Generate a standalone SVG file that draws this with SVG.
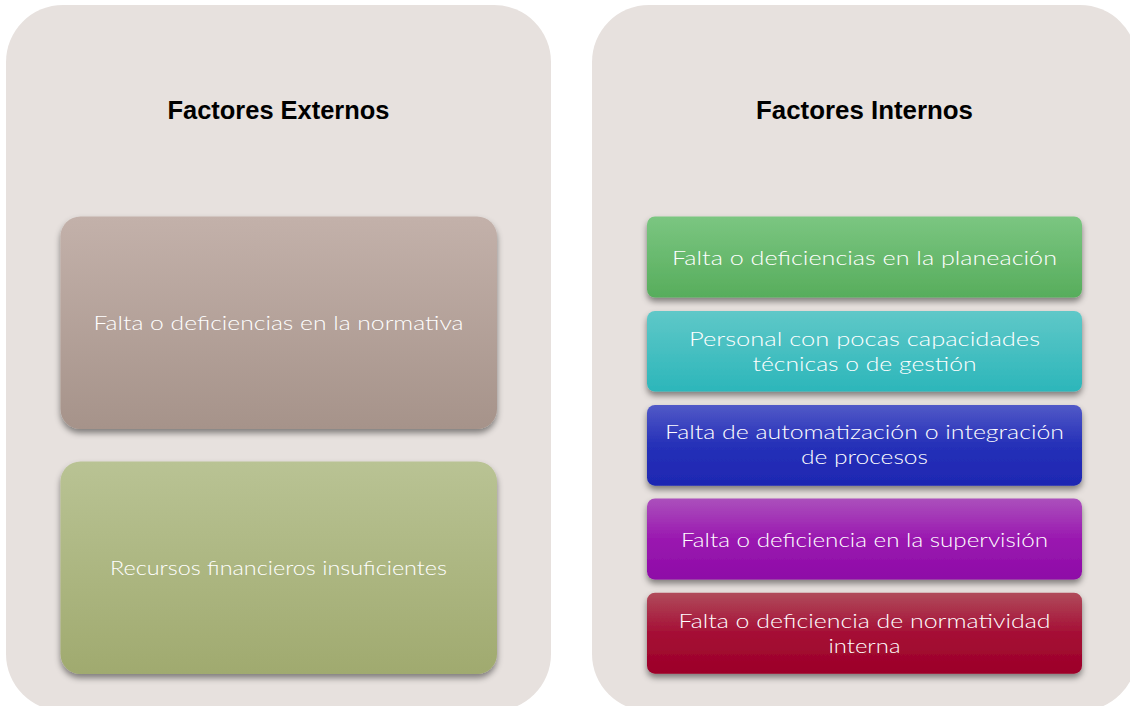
<svg xmlns="http://www.w3.org/2000/svg" width="1130" height="706" viewBox="0 0 1130 706">
  <defs>
    <style>
      .panel { fill: #E7E1DE; }
      .title { font-family: "Liberation Sans", Arial, sans-serif; font-weight: bold; font-size: 25px; fill: #000; text-anchor: middle; }
      .lbl { font-family: Lato, "Open Sans", "Liberation Sans", sans-serif; font-weight: 300; font-size: 20.5px; fill: #FFFFFF; text-anchor: middle; }
      .box { filter: url(#shadow); }
    </style>
    <filter id="shadow" x="-10%" y="-20%" width="120%" height="150%">
      <feDropShadow dx="0" dy="4" stdDeviation="3" flood-color="#000" flood-opacity="0.45"/>
    </filter>
    <linearGradient id="gBrown" x1="0" y1="0" x2="0" y2="1">
      <stop offset="0" stop-color="#C3B1AA"/>
      <stop offset="1" stop-color="#A6938A"/>
    </linearGradient>
    <linearGradient id="gOlive" x1="0" y1="0" x2="0" y2="1">
      <stop offset="0" stop-color="#B9C394"/>
      <stop offset="1" stop-color="#A0AA6F"/>
    </linearGradient>
    <linearGradient id="gGreen" x1="0" y1="0" x2="0" y2="1">
      <stop offset="0" stop-color="#7BC681"/>
      <stop offset="1" stop-color="#57AD5C"/>
    </linearGradient>
    <linearGradient id="gTeal" x1="0" y1="0" x2="0" y2="1">
      <stop offset="0" stop-color="#5FC8C8"/>
      <stop offset="1" stop-color="#2CB6BA"/>
    </linearGradient>
    <linearGradient id="gBlue" x1="0" y1="0" x2="0" y2="1">
      <stop offset="0" stop-color="#5159C7"/>
      <stop offset="0.5" stop-color="#2530B8"/>
      <stop offset="1" stop-color="#1E27B2"/>
    </linearGradient>
    <linearGradient id="gPurple" x1="0" y1="0" x2="0" y2="1">
      <stop offset="0" stop-color="#AB50BC"/>
      <stop offset="0.5" stop-color="#9A18B0"/>
      <stop offset="1" stop-color="#8E0BA7"/>
    </linearGradient>
    <linearGradient id="gRed" x1="0" y1="0" x2="0" y2="1">
      <stop offset="0" stop-color="#B04B5B"/>
      <stop offset="0.5" stop-color="#A50E35"/>
      <stop offset="1" stop-color="#9C0028"/>
    </linearGradient>
  </defs>

  <rect width="1130" height="706" fill="#FFFFFF"/>

  <g id="panel-externos">
    <rect class="panel" x="6" y="5" width="545" height="706" rx="57" ry="57"/>
    <text class="title" x="278.5" y="119" textLength="222" lengthAdjust="spacingAndGlyphs">Factores Externos</text>
  </g>

  <g id="panel-internos">
    <rect class="panel" x="592" y="5" width="545" height="706" rx="57" ry="57"/>
    <text class="title" x="864.5" y="119" textLength="217" lengthAdjust="spacingAndGlyphs">Factores Internos</text>
  </g>

  <g id="ext-normativa">
    <rect class="box" x="60.5" y="216.5" width="436.5" height="212.5" rx="20" ry="20" fill="url(#gBrown)"/>
    <text class="lbl" x="278.5" y="330" textLength="370" lengthAdjust="spacingAndGlyphs">Falta o deficiencias en la normativa</text>
  </g>

  <g id="ext-recursos">
    <rect class="box" x="60.5" y="461.5" width="436.5" height="212.5" rx="20" ry="20" fill="url(#gOlive)"/>
    <text class="lbl" x="278.5" y="575" textLength="337" lengthAdjust="spacingAndGlyphs">Recursos financieros insuficientes</text>
  </g>

  <g id="int-planeacion">
    <rect class="box" x="647" y="216.5" width="435" height="81" rx="8" ry="8" fill="url(#gGreen)"/>
    <text class="lbl" x="864.5" y="265" textLength="385" lengthAdjust="spacingAndGlyphs">Falta o deficiencias en la planeación</text>
  </g>

  <g id="int-personal">
    <rect class="box" x="647" y="311" width="435" height="80.5" rx="8" ry="8" fill="url(#gTeal)"/>
    <text class="lbl" x="864.5" y="345.8" textLength="351" lengthAdjust="spacingAndGlyphs">Personal con pocas capacidades</text>
    <text class="lbl" x="864.5" y="370.8" textLength="224" lengthAdjust="spacingAndGlyphs">técnicas o de gestión</text>
  </g>

  <g id="int-automatizacion">
    <rect class="box" x="647" y="405" width="435" height="80.7" rx="8" ry="8" fill="url(#gBlue)"/>
    <text class="lbl" x="864.5" y="439.2" textLength="399" lengthAdjust="spacingAndGlyphs">Falta de automatización o integración</text>
    <text class="lbl" x="864.5" y="464.2" textLength="127" lengthAdjust="spacingAndGlyphs">de procesos</text>
  </g>

  <g id="int-supervision">
    <rect class="box" x="647" y="498.5" width="435" height="81" rx="8" ry="8" fill="url(#gPurple)"/>
    <text class="lbl" x="864.5" y="546.7" textLength="367" lengthAdjust="spacingAndGlyphs">Falta o deficiencia en la supervisión</text>
  </g>

  <g id="int-normatividad">
    <rect class="box" x="647" y="592.7" width="435" height="81" rx="8" ry="8" fill="url(#gRed)"/>
    <text class="lbl" x="864.5" y="627.5" textLength="372" lengthAdjust="spacingAndGlyphs">Falta o deficiencia de normatividad</text>
    <text class="lbl" x="864.5" y="652.5" textLength="72" lengthAdjust="spacingAndGlyphs">interna</text>
  </g>

  <g id="connectors"></g>
</svg>
